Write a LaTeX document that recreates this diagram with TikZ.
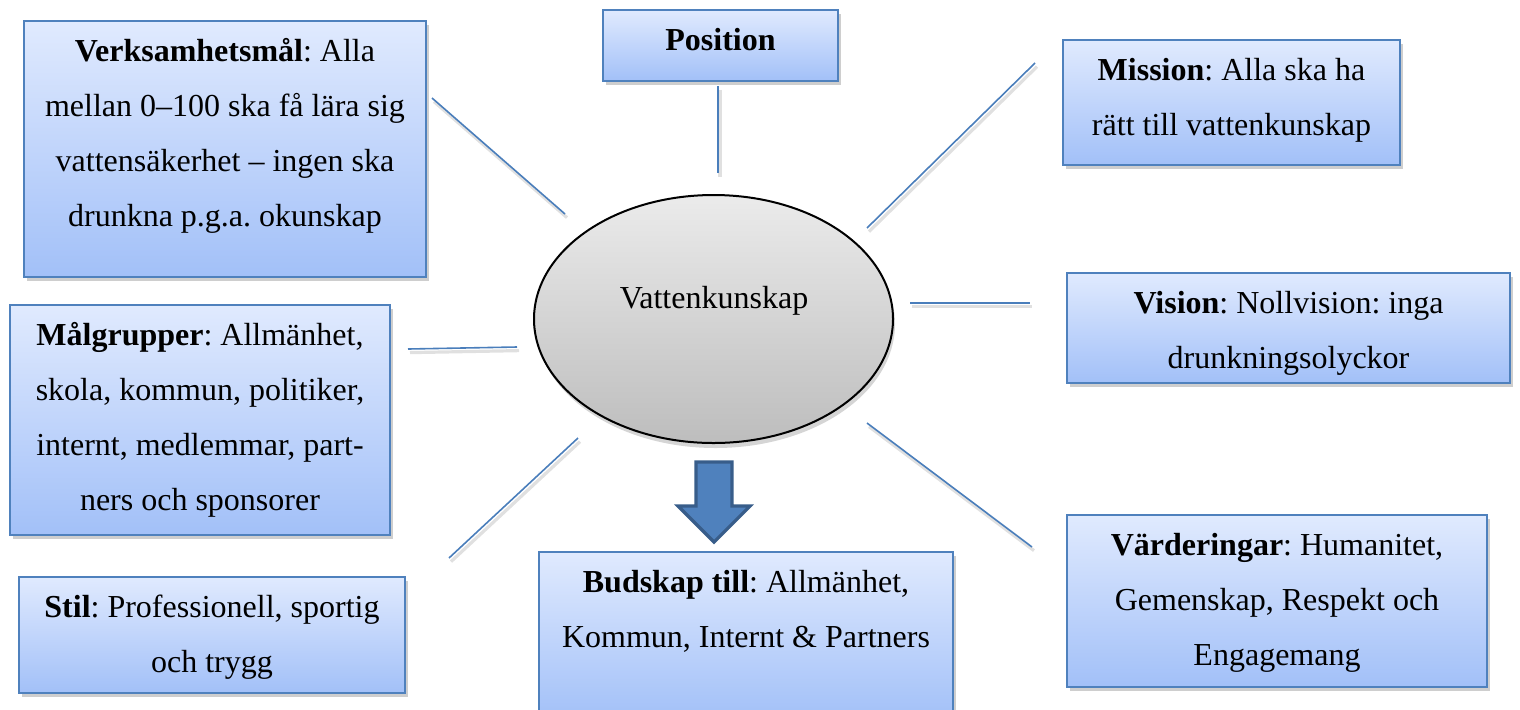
\documentclass[tikz,border=0pt]{standalone}
\usepackage{fontspec}
\setmainfont{Liberation Serif}
\usetikzlibrary{shapes.geometric,shadows}
\frenchspacing

\definecolor{boxline}{HTML}{4F81BD}
\definecolor{boxtop}{HTML}{E0EAFE}
\definecolor{boxbot}{HTML}{A2C0F8}
\definecolor{linkblue}{HTML}{4A7EBB}
\definecolor{arrowfill}{HTML}{4F81BD}
\definecolor{arrowline}{HTML}{385D8A}
\definecolor{ovaltop}{HTML}{EBEBEB}
\definecolor{ovalbot}{HTML}{BDBDBD}

\newcommand\firststrut{\rule{0pt}{12pt}}

\begin{document}
\begin{tikzpicture}[x=0.5pt,y=-0.5pt,
  infobox/.style={draw=boxline, line width=1pt, top color=boxtop, bottom color=boxbot,
    inner sep=0pt,
    drop shadow={shadow xshift=1.5pt, shadow yshift=-2pt, opacity=0.35, fill=black!55}},
  boxtext/.style={anchor=north, inner sep=0pt, align=center,
    font=\fontsize{16pt}{27.5pt}\selectfont},
  link/.style={draw=linkblue, line width=0.8pt,
    preaction={draw=black, opacity=0.12, line width=1.6pt,
      transform canvas={shift={(1pt,-1.8pt)}}}},
  oval/.style={ellipse, draw=black, line width=1pt, top color=ovaltop, bottom color=ovalbot,
    inner sep=0pt, minimum width=179.5pt, minimum height=124pt,
    drop shadow={shadow xshift=1pt, shadow yshift=-2.5pt, opacity=0.3, fill=black!55}},
  bigarrow/.style={fill=arrowfill, draw=arrowline, line width=1.6pt, line join=miter}
]
\useasboundingbox (0,0) rectangle (1520,709);
\clip (0,0) rectangle (1520,709);

% central topic
\node[oval] (core) at (713.5,319) {};
\node[anchor=base, inner sep=0pt, font=\fontsize{16pt}{27.5pt}\selectfont] (coretext) at (714,308) {Vattenkunskap};

% surrounding boxes
\node[infobox, minimum width=201pt, minimum height=128pt] (verk) at (225,149) {};
\node[boxtext] (verkt) at (225,37) {\firststrut\textbf{Verksamhetsmål}: Alla\\mellan 0–100 ska få lära sig\\vattensäkerhet – ingen ska\\drunkna p.g.a. okunskap};

\node[infobox, minimum width=117.5pt, minimum height=35.5pt] (pos) at (720.5,45.5) {};
\node[boxtext] (post) at (720.5,26) {\firststrut\textbf{Position}};

\node[infobox, minimum width=168.5pt, minimum height=62.5pt] (miss) at (1231.5,102.5) {};
\node[boxtext] (misst) at (1231.5,56) {\firststrut\textbf{Mission}: Alla ska ha\\rätt till vattenkunskap};

\node[infobox, minimum width=221.5pt, minimum height=55pt] (vis) at (1288.5,328) {};
\node[boxtext] (vist) at (1288.5,289) {\firststrut\textbf{Vision}: Nollvision: inga\\drunkningsolyckor};

\node[infobox, minimum width=190pt, minimum height=115pt] (mal) at (200,420) {};
\node[boxtext] (malt) at (200,321) {\firststrut\textbf{Målgrupper}: Allmänhet,\\skola, kommun, politiker,\\internt, medlemmar, part-\\ners och sponsorer};

\node[infobox, minimum width=193pt, minimum height=58pt] (stil) at (212,635) {};
\node[boxtext] (stilt) at (212,593) {\firststrut\textbf{Stil}: Professionell, sportig\\och trygg};

\node[infobox, minimum width=207pt, minimum height=84pt] (bud) at (746,636) {};
\node[boxtext] (budt) at (746,568) {\firststrut\textbf{Budskap till}: Allmänhet,\\Kommun, Internt \& Partners};

\node[infobox, minimum width=210pt, minimum height=86pt] (vard) at (1277,601) {};
\node[boxtext] (vardt) at (1277,531) {\firststrut\textbf{Värderingar}: Humanitet,\\Gemenskap, Respekt och\\Engagemang};

% free-standing spokes
\coordinate (s1a) at (432,98);   \coordinate (s1b) at (565,214);
\coordinate (s2a) at (718,86);   \coordinate (s2b) at (718,173);
\coordinate (s3a) at (867,228);  \coordinate (s3b) at (1035,63);
\coordinate (s4a) at (910,303);  \coordinate (s4b) at (1030,303);
\coordinate (s5a) at (408,349);  \coordinate (s5b) at (517,347);
\coordinate (s6a) at (449,558);  \coordinate (s6b) at (578,438);
\coordinate (s7a) at (867,423);  \coordinate (s7b) at (1032,547);

\path[link] (s1a) -- (s1b);
\path[link] (s2a) -- (s2b);
\path[link] (s3a) -- (s3b);
\path[link] (s4a) -- (s4b);
\path[link] (s5a) -- (s5b);
\path[link] (s6a) -- (s6b);
\path[link] (s7a) -- (s7b);

% block arrow towards the message box
\draw[bigarrow] (696,462) -- (732,462) -- (732,506) -- (750,506) -- (714,542)
  -- (678,506) -- (696,506) -- cycle;
\end{tikzpicture}
\end{document}
